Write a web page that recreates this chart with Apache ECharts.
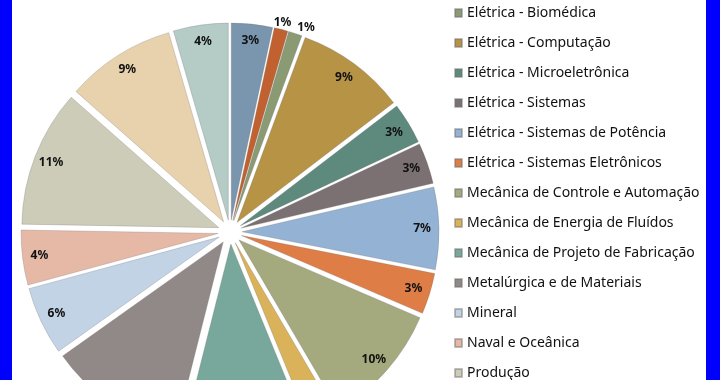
<!DOCTYPE html>
<html>
<head>
<meta charset="utf-8">
<script src="https://cdn.jsdelivr.net/npm/echarts@6/dist/echarts.min.js"></script>
<style>
html,body{margin:0;padding:0;background:#0000ff;width:720px;height:380px;overflow:hidden;}
#chart{position:absolute;left:12px;top:0;width:694px;height:380px;background:#ffffff;}
</style>
</head>
<body>
<div id="chart"></div>
<script>
// Categories (clockwise from 12 o'clock, same order as legend)
const categories = [
  'Civil',
  'Construção Civil',
  'Elétrica - Biomédica',
  'Elétrica - Computação',
  'Elétrica - Microeletrônica',
  'Elétrica - Sistemas',
  'Elétrica - Sistemas de Potência',
  'Elétrica - Sistemas Eletrônicos',
  'Mecânica de Controle e Automação',
  'Mecânica de Energia de Fluídos',
  'Mecânica de Projeto de Fabricação',
  'Metalúrgica e de Materiais',
  'Mineral',
  'Naval e Oceânica',
  'Produção',
  'Química',
  'Transportes'
];
// Counts per category
const values = [3, 1, 1, 8, 3, 3, 6, 3, 9, 2, 9, 10, 5, 4, 10, 8, 4];

const colors = [
  '#7a95ae', '#c1612f', '#8a9a73', '#b69345', '#5e8a7e', '#7b7173',
  '#93b2d4', '#de7d45', '#a4aa7e', '#d9b259', '#78a89b', '#918988',
  '#c2d3e5', '#e6b9a6', '#cdccb8', '#e8d2ad', '#b4cbc6'
];

const total = values.reduce((a, b) => a + b, 0);
const FONT = '"Noto Sans", "DejaVu Sans", sans-serif';

// labels placed outside for the two thinnest slices
const outsideLabels = {
  1: { length: 17.5, length2: -14 },
  2: { length: 17, length2: -5 }
};

const sliceData = categories.map((n, i) => ({
  name: n, value: values[i], selected: true,
  itemStyle: { color: colors[i] }
}));

const labelData = categories.map((n, i) => {
  const item = { name: n, value: values[i] };
  if (outsideLabels[i]) {
    item.label = { position: 'outside' };
    item.labelLine = { show: false, length: outsideLabels[i].length, length2: outsideLabels[i].length2 };
  }
  return item;
});

const chart = echarts.init(document.getElementById('chart'), null, { renderer: 'canvas' });
chart.setOption({
  animation: false,
  backgroundColor: '#ffffff',
  legend: {
    orient: 'vertical',
    left: 442,
    top: -54,
    height: 600,
    padding: 0,
    itemWidth: 7,
    itemHeight: 8,
    itemGap: 16,
    icon: 'rect',
    selectedMode: false,
    data: categories,
    textStyle: { fontFamily: FONT, fontSize: 14, color: '#111', lineHeight: 14 }
  },
  series: [
    {
      type: 'pie',
      center: [218, 232],
      radius: [0, 197],
      startAngle: 90,
      clockwise: true,
      selectedMode: 'multiple',
      selectedOffset: 12,
      avoidLabelOverlap: false,
      silent: true,
      label: { show: false },
      labelLine: { show: false },
      itemStyle: { borderColor: 'rgba(110,110,110,0.45)', borderWidth: 0.6 },
      select: { itemStyle: { borderColor: 'rgba(110,110,110,0.45)', borderWidth: 0.6 } },
      emphasis: { disabled: true },
      data: sliceData
    },
    {
      type: 'pie',
      center: [218, 232],
      radius: [180, 198],
      startAngle: 90,
      clockwise: true,
      avoidLabelOverlap: false,
      silent: true,
      itemStyle: { color: 'rgba(0,0,0,0)' },
      emphasis: { disabled: true },
      label: {
        show: true,
        position: 'inside',
        fontFamily: FONT,
        fontSize: 12,
        fontWeight: 'bold',
        color: '#111',
        formatter: p => Math.round(p.value / total * 100) + '%'
      },
      labelLine: { show: false },
      data: labelData
    }
  ]
});
</script>
</body>
</html>
